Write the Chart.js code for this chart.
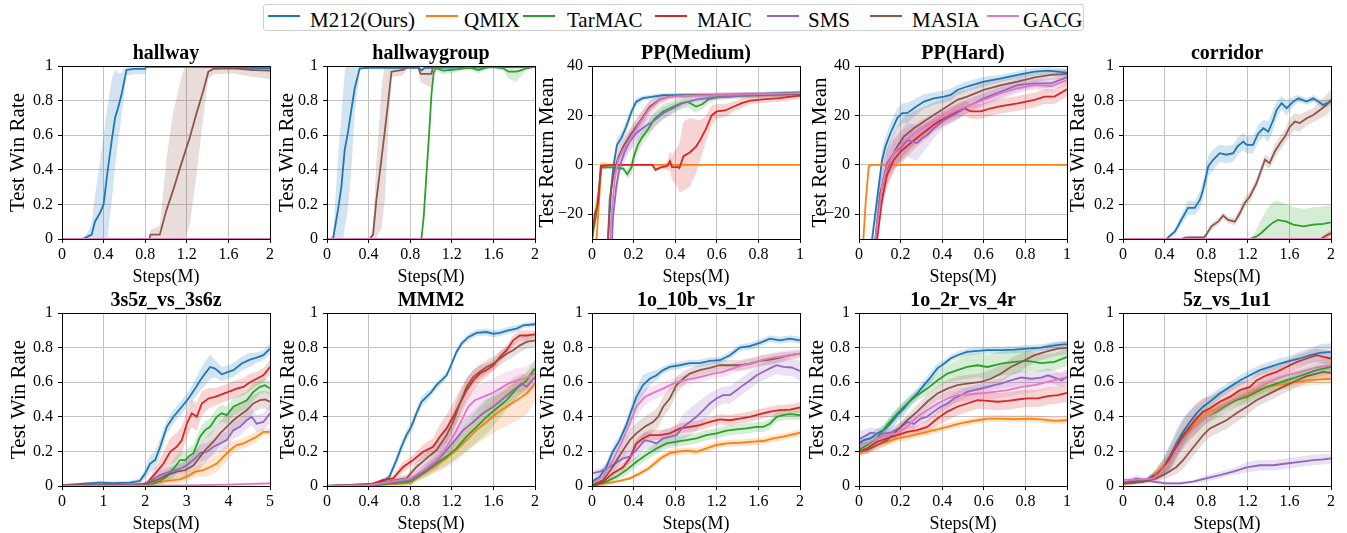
<!DOCTYPE html>
<html>
<head>
<meta charset="utf-8">
<script src="https://cdn.jsdelivr.net/npm/chart.js@4.4.1/dist/chart.umd.min.js"></script>
<style>
    body { margin: 0; width: 1347px; height: 533px; background: #fff; position: relative; overflow: hidden;
           font-family: 'Liberation Serif', 'Times New Roman', serif; }
    canvas { position: absolute; }
    #legend { position: absolute; left: 263px; top: 4px; width: 819px; height: 25px;
              border: 1px solid #cfcfcf; border-radius: 3px; background: #fff; }
    #legend .sw { position: absolute; top: 10px; width: 32px; height: 2px; }
    #legend .tx { position: absolute; top: 5px; font-size: 21px; line-height: 21px; color: #000; white-space: nowrap; }
</style>
</head>
<body>
<div id="legend"></div>
<script>
// ===== DATA =====
const methods = ['M212(Ours)', 'QMIX', 'TarMAC', 'MAIC', 'SMS', 'MASIA', 'GACG'];

const winTicks = [0, 0.2, 0.4, 0.6, 0.8, 1];
const returnTicks = [-20, 0, 20, 40];
const steps2Ticks = [0, 0.4, 0.8, 1.2, 1.6, 2];
const steps1Ticks = [0, 0.2, 0.4, 0.6, 0.8, 1];
const steps5Ticks = [0, 1, 2, 3, 4, 5];

// every curve: [steps (M), mean, half-width of the shaded band], series in the order of `methods`
const hallway = [
    [[0,0,0],[0.2,0,0],[0.24,0.012,0.02],[0.285,0.025,0.06],[0.317,0.1,0.15],[0.365,0.15,0.3],[0.4,0.2,0.4],[0.436,0.38,0.38],[0.478,0.57,0.35],[0.51,0.7,0.28],[0.54,0.76,0.2],[0.574,0.84,0.12],[0.62,0.977,0.03],[0.69,0.983,0.03],[0.8,0.983,0.03],[0.81,0.995,0.005],[1.2,0.995,0.005],[1.6,0.993,0.005],[2,0.987,0.008]],
    [[0,0,0],[2,0,0]],
    [[0,0,0],[2,0,0]],
    [[0,0,0],[2,0,0]],
    [[0,0,0],[2,0,0]],
    [[0,0,0],[0.84,0,0],[0.85,0.025,0.03],[0.94,0.025,0.05],[1.006,0.17,0.3],[1.07,0.285,0.45],[1.15,0.44,0.5],[1.23,0.59,0.5],[1.295,0.73,0.35],[1.36,0.86,0.15],[1.407,0.967,0.04],[1.455,0.983,0.03],[1.65,0.987,0.03],[1.84,0.977,0.04],[2,0.973,0.05]],
    [[0,0,0],[2,0,0]]
];

const hallwayGroup = [
    [[0,0,0],[0.058,0,0.02],[0.106,0.17,0.3],[0.138,0.3,0.4],[0.17,0.515,0.45],[0.2,0.61,0.45],[0.234,0.746,0.35],[0.266,0.87,0.15],[0.315,0.987,0.01],[0.41,0.99,0.005],[0.88,0.99,0.005],[0.91,0.975,0.01],[0.94,0.99,0.005],[2,0.995,0.005]],
    [[0,0,0],[2,0,0]],
    [[0,0,0],[0.908,0,0],[0.93,0.13,0.02],[0.957,0.38,0.02],[0.982,0.61,0.02],[1.005,0.84,0.02],[1.027,0.967,0.02],[1.05,0.987,0.015],[1.117,0.973,0.02],[1.245,0.98,0.015],[1.374,0.99,0.01],[1.454,0.977,0.02],[1.567,0.997,0.01],[1.695,0.987,0.01],[1.743,0.967,0.04],[1.823,0.967,0.06],[1.855,0.973,0.04],[1.92,0.987,0.01],[2,0.997,0.005]],
    [[0,0,0],[2,0,0]],
    [[0,0,0],[2,0,0]],
    [[0,0,0],[0.41,0,0],[0.443,0.025,0.05],[0.475,0.227,0.22],[0.523,0.46,0.4],[0.555,0.62,0.4],[0.587,0.785,0.2],[0.62,0.967,0.03],[0.73,0.977,0.03],[0.78,0.996,0.01],[0.876,0.996,0.01],[0.9,0.954,0.05],[1.005,0.954,0.08],[1.02,1,0],[2,1,0]],
    [[0,0,0],[2,0,0]]
];

const ppMedium = [
    [[0.06,-60,0],[0.077,-30,2],[0.093,-8.7,3],[0.104,0,3],[0.12,8,3],[0.141,10.8,2.5],[0.165,15.5,2.5],[0.19,21.6,2],[0.213,25.6,1.5],[0.245,27,1],[0.294,27.6,1],[0.342,28.2,0.8],[0.5,28.2,0.8],[0.663,28.3,0.8],[0.823,28.7,0.8],[1,29.2,0.8]],
    [[0.01,-45,0],[0.045,0,0],[1,0,0]],
    [[0,-30,3],[0.02,-20,3],[0.045,-1,1],[0.1,-1,0.5],[0.15,-1.5,1],[0.17,-3.8,2],[0.19,-1,3],[0.2,3,3],[0.22,8,3],[0.24,11,3],[0.27,14.5,3],[0.3,18.5,3],[0.34,21.5,3],[0.39,23.5,2.5],[0.43,25,2.5],[0.46,25.5,2.5],[0.5,23.6,2.5],[0.53,24.5,2],[0.56,26.5,1.5],[0.6,27.3,1],[0.7,27.8,1],[0.8,28.3,1],[1,29,1]],
    [[0,-30,4],[0.013,-20,5],[0.029,-15.5,5],[0.042,-0.5,2],[0.1,0,0.3],[0.29,0,0.5],[0.305,-2,1],[0.33,-1,1],[0.36,-0.5,1.5],[0.375,1.5,4],[0.385,-1,5],[0.41,-0.8,8],[0.42,-1.3,10],[0.44,3.5,14],[0.47,5,14],[0.5,7.4,11],[0.52,10,8],[0.55,15,5],[0.575,20,4],[0.6,21.6,3],[0.64,22,2.5],[0.68,23.5,2],[0.72,25,2],[0.76,26,1.5],[0.82,26.5,1.5],[0.9,27,1.5],[1,28,1.5]],
    [[0.09,-45,0],[0.101,-21,4],[0.117,-8.8,4],[0.133,-0.8,4],[0.157,5.3,4],[0.181,9.4,4],[0.213,12.8,4],[0.254,15.5,3.5],[0.294,17.5,3],[0.342,20.9,2.5],[0.39,22.9,2],[0.438,25,1.5],[0.502,26.5,1],[0.583,27.2,1],[0.695,27.9,1],[0.823,28.2,1],[1,28.6,1]],
    [[0.06,-45,0],[0.077,-30,3],[0.085,-14,3],[0.104,-3.5,3],[0.125,2.6,3],[0.15,7.4,3],[0.18,11.5,3],[0.23,17.5,3],[0.278,23.6,2.5],[0.326,26.5,1.5],[0.374,27.6,1],[0.42,28,1],[0.5,28.2,1],[0.663,28.4,1],[0.823,28.4,1],[1,28.7,1]],
    [[0.08,-45,0],[0.093,-21,4],[0.109,-6,4],[0.125,1.9,4],[0.149,5.9,4],[0.181,10,4],[0.229,16.8,4],[0.278,22.9,3],[0.326,26.3,2],[0.374,27.6,1],[0.47,28,1],[0.663,28.3,1],[1,29,1]]
];

const ppHard = [
    [[0.05,-50,0],[0.063,-30,3],[0.087,-14,4],[0.111,2,4],[0.127,7.4,4],[0.151,12.8,4],[0.184,18.9,4],[0.208,20.9,4],[0.232,20.9,4],[0.264,22.9,3.5],[0.312,25.6,3],[0.36,26.9,2.5],[0.41,27.6,2.5],[0.44,28.3,2.5],[0.473,30.3,2],[0.52,31.7,2],[0.6,33.7,2],[0.683,35,1.5],[0.763,36.4,1.5],[0.844,37.7,1.5],[0.908,38.1,1.5],[1,37.3,1.5]],
    [[0.01,-45,0],[0.033,-14,3],[0.047,-0.5,1],[0.058,0,0],[1,0,0]],
    [],
    [[0.07,-50,0],[0.087,-30,4],[0.111,-14,4],[0.135,-4,4],[0.167,2,4],[0.2,5.4,4],[0.248,8.8,4],[0.296,12.1,3.5],[0.36,16.2,3],[0.41,18.9,3],[0.457,20.9,3],[0.506,22.9,3],[0.538,21.6,3],[0.586,21.6,3],[0.634,22.9,3],[0.683,23.8,3],[0.763,24.9,3],[0.844,26.3,3],[0.892,27.6,3],[0.94,27.6,3],[1,30.6,3]],
    [[0.07,-50,0],[0.079,-30,4],[0.103,-11.4,5],[0.135,0.7,6],[0.167,4.7,6],[0.2,6.7,7],[0.232,10.1,7],[0.256,9.4,7],[0.28,8.8,7],[0.304,10.8,6],[0.328,12.1,5],[0.36,14.8,4],[0.41,18.2,3],[0.457,20.2,3],[0.52,23.6,2.5],[0.6,26.9,2.5],[0.683,29.6,2.5],[0.763,32.3,2.5],[0.844,33,2],[0.924,33,2],[1,35.4,2]],
    [[0.065,-50,0],[0.079,-30,6],[0.103,-11.4,7],[0.127,-3.4,8],[0.151,2,8],[0.184,7.4,8],[0.216,11.5,8],[0.264,14.8,7],[0.312,17.5,6],[0.36,20.2,5],[0.41,22.9,4],[0.473,26.3,3.5],[0.52,27.6,3],[0.6,30.3,3],[0.683,32.3,2.5],[0.763,33.7,2.5],[0.844,35.4,2],[0.924,36.4,2],[1,36.8,2]],
    [[0.065,-50,0],[0.079,-30,4],[0.111,-8.7,5],[0.135,-0.7,5],[0.167,4.7,5],[0.216,9.4,5],[0.28,13.5,4],[0.36,17.5,3.5],[0.41,19.5,3],[0.473,22.2,3],[0.52,23.8,3],[0.6,26.3,2.5],[0.683,29,2.5],[0.763,31,2],[0.844,32.3,2],[0.924,31.9,2],[1,34.3,2]]
];

const corridor = [
    [[0,0,0],[0.417,0,0],[0.5,0.044,0.02],[0.56,0.11,0.03],[0.626,0.18,0.04],[0.69,0.18,0.04],[0.74,0.227,0.05],[0.77,0.285,0.05],[0.82,0.42,0.06],[0.867,0.458,0.06],[0.93,0.496,0.05],[0.995,0.487,0.05],[1.06,0.496,0.05],[1.1,0.535,0.05],[1.156,0.563,0.05],[1.19,0.544,0.05],[1.25,0.544,0.05],[1.3,0.61,0.05],[1.35,0.64,0.05],[1.397,0.62,0.06],[1.445,0.688,0.06],[1.477,0.746,0.05],[1.525,0.785,0.04],[1.573,0.756,0.04],[1.637,0.794,0.03],[1.685,0.813,0.02],[1.766,0.794,0.02],[1.83,0.813,0.02],[1.926,0.775,0.02],[2,0.794,0.02]],
    [[0,0,0],[2,0,0]],
    [[0,0,0],[1.22,0,0],[1.284,0.015,0.04],[1.33,0.035,0.08],[1.397,0.073,0.11],[1.445,0.096,0.12],[1.49,0.11,0.11],[1.573,0.1,0.1],[1.637,0.083,0.1],[1.734,0.073,0.1],[1.83,0.083,0.1],[1.926,0.088,0.1],[2,0.096,0.1]],
    [[0,0,0],[1.9,0,0],[1.926,0.01,0.01],[2,0.035,0.02]],
    [[0,0,0],[2,0,0]],
    [[0,0,0],[0.55,0,0],[0.6,0.008,0.01],[0.78,0.01,0.01],[0.8,0.025,0.015],[0.85,0.073,0.02],[0.915,0.1,0.02],[0.963,0.135,0.02],[1.01,0.11,0.02],[1.075,0.1,0.02],[1.124,0.15,0.03],[1.17,0.208,0.03],[1.22,0.246,0.03],[1.284,0.323,0.03],[1.33,0.4,0.03],[1.365,0.458,0.03],[1.41,0.438,0.03],[1.46,0.506,0.04],[1.51,0.554,0.04],[1.557,0.592,0.04],[1.605,0.65,0.05],[1.653,0.679,0.05],[1.7,0.67,0.05],[1.766,0.698,0.04],[1.83,0.717,0.04],[1.894,0.746,0.05],[1.958,0.775,0.06],[2,0.804,0.06]],
    [[0,0,0],[2,0,0]]
];

const map3s5z = [
    [[0,0.005,0.005],[0.91,0.02,0.01],[1.23,0.016,0.01],[1.63,0.02,0.01],[1.875,0.03,0.015],[2,0.073,0.03],[2.12,0.13,0.05],[2.24,0.15,0.05],[2.36,0.227,0.05],[2.52,0.342,0.04],[2.68,0.4,0.04],[2.88,0.458,0.04],[3.04,0.506,0.04],[3.2,0.563,0.05],[3.32,0.61,0.06],[3.44,0.65,0.07],[3.56,0.688,0.07],[3.68,0.679,0.05],[3.84,0.646,0.04],[4,0.66,0.04],[4.12,0.67,0.04],[4.32,0.708,0.04],[4.52,0.73,0.04],[4.68,0.742,0.03],[4.84,0.756,0.03],[5,0.794,0.03]],
    [[0,0.003,0.003],[2,0.005,0.005],[2.52,0.03,0.02],[2.84,0.038,0.02],[3,0.054,0.03],[3.2,0.083,0.03],[3.4,0.092,0.04],[3.56,0.11,0.05],[3.72,0.13,0.05],[3.88,0.17,0.05],[4.04,0.208,0.04],[4.2,0.237,0.03],[4.36,0.246,0.03],[4.52,0.265,0.03],[4.68,0.285,0.03],[4.84,0.313,0.02],[5,0.313,0.02]],
    [[0,0.003,0.003],[2.12,0.006,0.005],[2.36,0.03,0.02],[2.52,0.054,0.03],[2.68,0.1,0.05],[2.84,0.15,0.05],[2.96,0.15,0.05],[3.04,0.17,0.05],[3.16,0.19,0.05],[3.32,0.285,0.05],[3.44,0.323,0.05],[3.56,0.342,0.05],[3.72,0.4,0.05],[3.84,0.42,0.05],[3.96,0.41,0.05],[4.12,0.458,0.05],[4.28,0.477,0.05],[4.44,0.496,0.05],[4.6,0.544,0.05],[4.76,0.573,0.04],[4.88,0.583,0.04],[5,0.563,0.04]],
    [[0,0.003,0.003],[1.71,0.006,0.005],[2.04,0.015,0.01],[2.28,0.083,0.04],[2.44,0.13,0.07],[2.6,0.198,0.08],[2.76,0.227,0.08],[2.88,0.265,0.08],[3,0.36,0.08],[3.12,0.42,0.08],[3.24,0.4,0.08],[3.36,0.477,0.07],[3.52,0.506,0.06],[3.68,0.515,0.05],[3.84,0.53,0.05],[4,0.544,0.05],[4.2,0.563,0.05],[4.36,0.573,0.05],[4.52,0.6,0.05],[4.68,0.62,0.04],[4.84,0.64,0.04],[5,0.688,0.04]],
    [[0,0.003,0.003],[1.96,0.01,0.01],[2.16,0.035,0.02],[2.36,0.063,0.03],[2.6,0.083,0.03],[2.84,0.1,0.03],[3,0.12,0.04],[3.16,0.15,0.04],[3.32,0.19,0.05],[3.48,0.198,0.05],[3.64,0.227,0.05],[3.8,0.246,0.05],[3.96,0.265,0.05],[4.12,0.323,0.05],[4.28,0.342,0.05],[4.44,0.38,0.05],[4.56,0.4,0.05],[4.68,0.36,0.05],[4.84,0.37,0.05],[5,0.42,0.05]],
    [[0,0.003,0.003],[1.96,0.006,0.005],[2.28,0.035,0.02],[2.52,0.063,0.03],[2.76,0.083,0.04],[2.96,0.092,0.05],[3.16,0.12,0.06],[3.32,0.17,0.07],[3.48,0.217,0.07],[3.64,0.256,0.07],[3.8,0.304,0.07],[3.96,0.342,0.07],[4.12,0.38,0.07],[4.28,0.41,0.06],[4.44,0.438,0.06],[4.6,0.477,0.05],[4.76,0.496,0.05],[4.88,0.5,0.05],[5,0.487,0.05]],
    [[0,0,0.002],[3,0.003,0.004],[4,0.008,0.006],[5,0.015,0.008]]
];

const mapMMM2 = [
    [[0,0,0],[0.41,0.006,0.005],[0.54,0.025,0.01],[0.6,0.054,0.02],[0.668,0.15,0.03],[0.716,0.227,0.03],[0.764,0.294,0.03],[0.81,0.342,0.03],[0.86,0.42,0.03],[0.909,0.487,0.03],[0.957,0.515,0.03],[1.005,0.544,0.02],[1.053,0.583,0.02],[1.1,0.61,0.02],[1.15,0.64,0.02],[1.2,0.708,0.02],[1.245,0.775,0.02],[1.294,0.823,0.02],[1.358,0.86,0.02],[1.438,0.885,0.02],[1.535,0.89,0.02],[1.6,0.88,0.02],[1.663,0.885,0.02],[1.743,0.9,0.02],[1.823,0.91,0.02],[1.888,0.929,0.015],[2,0.935,0.015]],
    [[0,0,0],[0.41,0.003,0.003],[0.8,0.015,0.01],[0.925,0.07,0.03],[1.053,0.12,0.04],[1.15,0.16,0.05],[1.245,0.208,0.06],[1.342,0.265,0.07],[1.438,0.323,0.08],[1.535,0.37,0.09],[1.63,0.42,0.1],[1.727,0.458,0.11],[1.823,0.496,0.12],[1.92,0.535,0.12],[2,0.592,0.1]],
    [[0,0,0],[0.41,0.003,0.003],[0.8,0.025,0.01],[0.925,0.073,0.03],[1.053,0.13,0.04],[1.15,0.17,0.05],[1.245,0.217,0.06],[1.342,0.285,0.08],[1.438,0.342,0.09],[1.535,0.4,0.1],[1.63,0.448,0.08],[1.727,0.496,0.06],[1.823,0.563,0.05],[1.92,0.61,0.05],[2,0.68,0.05]],
    [[0,0,0],[0.41,0.006,0.005],[0.54,0.035,0.01],[0.636,0.044,0.02],[0.732,0.11,0.03],[0.828,0.15,0.03],[0.925,0.198,0.04],[1.02,0.227,0.05],[1.085,0.285,0.07],[1.15,0.333,0.08],[1.213,0.4,0.08],[1.278,0.477,0.08],[1.342,0.554,0.07],[1.406,0.61,0.06],[1.47,0.65,0.05],[1.535,0.67,0.04],[1.6,0.698,0.03],[1.663,0.746,0.03],[1.727,0.785,0.03],[1.79,0.842,0.03],[1.855,0.87,0.03],[1.92,0.87,0.03],[2,0.877,0.02]],
    [[0,0,0],[0.41,0.005,0.004],[0.8,0.035,0.01],[0.925,0.083,0.03],[1.053,0.14,0.04],[1.15,0.208,0.05],[1.23,0.265,0.06],[1.31,0.323,0.06],[1.406,0.37,0.06],[1.5,0.42,0.07],[1.6,0.458,0.07],[1.695,0.506,0.07],[1.79,0.554,0.07],[1.87,0.592,0.06],[1.92,0.573,0.06],[2,0.63,0.06]],
    [[0,0,0],[0.507,0.015,0.01],[0.668,0.035,0.02],[0.764,0.044,0.02],[0.86,0.11,0.03],[0.957,0.16,0.04],[1.053,0.208,0.05],[1.15,0.294,0.05],[1.213,0.37,0.06],[1.278,0.477,0.06],[1.342,0.573,0.05],[1.406,0.63,0.04],[1.47,0.66,0.04],[1.535,0.688,0.04],[1.6,0.708,0.04],[1.663,0.737,0.04],[1.727,0.765,0.04],[1.79,0.785,0.04],[1.855,0.813,0.04],[1.92,0.833,0.04],[2,0.842,0.04]],
    [[0,0,0],[0.41,0.005,0.004],[0.8,0.044,0.02],[0.925,0.092,0.03],[1.053,0.15,0.05],[1.15,0.227,0.06],[1.23,0.304,0.07],[1.31,0.4,0.08],[1.358,0.458,0.08],[1.422,0.496,0.08],[1.5,0.515,0.08],[1.583,0.535,0.08],[1.663,0.563,0.08],[1.743,0.592,0.07],[1.823,0.61,0.07],[1.904,0.62,0.07],[2,0.65,0.07]]
];

const map1o10b = [
    [[0,0.025,0.02],[0.074,0.054,0.02],[0.138,0.11,0.03],[0.2,0.198,0.03],[0.266,0.265,0.03],[0.33,0.352,0.03],[0.38,0.438,0.04],[0.427,0.515,0.05],[0.49,0.583,0.06],[0.555,0.62,0.04],[0.62,0.64,0.03],[0.684,0.67,0.02],[0.748,0.688,0.02],[0.844,0.698,0.02],[0.94,0.71,0.02],[1.037,0.71,0.02],[1.133,0.723,0.02],[1.23,0.727,0.02],[1.326,0.756,0.02],[1.422,0.8,0.02],[1.518,0.808,0.02],[1.615,0.827,0.02],[1.711,0.852,0.02],[1.807,0.842,0.02],[1.904,0.852,0.02],[2,0.842,0.02]],
    [[0,0,0.005],[0.138,0.015,0.01],[0.266,0.03,0.01],[0.363,0.044,0.01],[0.46,0.073,0.015],[0.54,0.1,0.015],[0.62,0.14,0.02],[0.684,0.17,0.02],[0.748,0.19,0.02],[0.812,0.198,0.02],[0.908,0.204,0.02],[1.005,0.198,0.02],[1.1,0.217,0.02],[1.197,0.237,0.02],[1.294,0.246,0.02],[1.422,0.25,0.02],[1.55,0.256,0.02],[1.647,0.26,0.02],[1.743,0.275,0.02],[1.84,0.285,0.02],[2,0.308,0.02]],
    [[0,0,0.005],[0.138,0.025,0.015],[0.234,0.054,0.02],[0.33,0.092,0.03],[0.427,0.14,0.03],[0.523,0.18,0.03],[0.62,0.217,0.03],[0.716,0.246,0.03],[0.812,0.256,0.03],[0.908,0.265,0.03],[1.005,0.275,0.03],[1.1,0.294,0.03],[1.197,0.304,0.03],[1.294,0.32,0.03],[1.39,0.327,0.03],[1.486,0.333,0.03],[1.583,0.342,0.03],[1.647,0.342,0.03],[1.711,0.36,0.03],[1.775,0.4,0.03],[1.84,0.41,0.03],[1.904,0.415,0.03],[2,0.41,0.03]],
    [[0,0,0.005],[0.106,0.025,0.015],[0.2,0.073,0.02],[0.3,0.11,0.02],[0.363,0.16,0.03],[0.427,0.246,0.03],[0.49,0.275,0.03],[0.555,0.294,0.03],[0.652,0.294,0.03],[0.748,0.304,0.03],[0.844,0.333,0.03],[0.94,0.342,0.03],[1.037,0.352,0.03],[1.133,0.37,0.03],[1.23,0.385,0.03],[1.326,0.38,0.03],[1.422,0.39,0.03],[1.518,0.4,0.03],[1.615,0.415,0.03],[1.711,0.43,0.03],[1.807,0.438,0.03],[1.904,0.442,0.03],[2,0.454,0.03]],
    [[0,0.073,0.02],[0.074,0.083,0.02],[0.17,0.11,0.03],[0.25,0.14,0.03],[0.3,0.16,0.04],[0.363,0.17,0.04],[0.427,0.208,0.05],[0.507,0.265,0.05],[0.571,0.256,0.05],[0.62,0.246,0.05],[0.684,0.275,0.05],[0.748,0.285,0.05],[0.812,0.294,0.06],[0.876,0.342,0.07],[0.94,0.37,0.08],[1.005,0.4,0.08],[1.07,0.438,0.07],[1.133,0.477,0.06],[1.197,0.506,0.05],[1.26,0.525,0.05],[1.326,0.525,0.05],[1.39,0.554,0.05],[1.454,0.583,0.05],[1.518,0.61,0.05],[1.583,0.64,0.05],[1.647,0.66,0.05],[1.711,0.68,0.05],[1.775,0.698,0.05],[1.84,0.688,0.05],[1.92,0.685,0.05],[2,0.665,0.06]],
    [[0,0.006,0.005],[0.106,0.035,0.02],[0.2,0.11,0.04],[0.28,0.19,0.05],[0.363,0.265,0.06],[0.427,0.304,0.06],[0.507,0.342,0.06],[0.587,0.37,0.06],[0.636,0.4,0.06],[0.684,0.458,0.06],[0.748,0.506,0.06],[0.812,0.583,0.05],[0.876,0.62,0.04],[0.94,0.65,0.03],[1.037,0.67,0.03],[1.133,0.683,0.03],[1.23,0.698,0.03],[1.326,0.698,0.03],[1.422,0.698,0.03],[1.518,0.708,0.03],[1.615,0.723,0.03],[1.711,0.73,0.03],[1.807,0.742,0.03],[1.904,0.756,0.02],[2,0.765,0.02]],
    [[0,0.015,0.01],[0.106,0.054,0.02],[0.2,0.15,0.04],[0.28,0.246,0.05],[0.363,0.36,0.06],[0.427,0.458,0.06],[0.507,0.515,0.05],[0.587,0.538,0.04],[0.684,0.563,0.04],[0.78,0.592,0.03],[0.876,0.61,0.03],[0.973,0.62,0.03],[1.07,0.635,0.03],[1.165,0.65,0.03],[1.26,0.66,0.03],[1.358,0.68,0.03],[1.454,0.698,0.03],[1.55,0.71,0.03],[1.647,0.73,0.03],[1.743,0.742,0.03],[1.84,0.75,0.03],[2,0.765,0.03]]
];

const map1o2r = [
    [[0,0.246,0.03],[0.023,0.265,0.03],[0.055,0.275,0.03],[0.087,0.304,0.03],[0.12,0.323,0.03],[0.151,0.36,0.04],[0.184,0.41,0.04],[0.216,0.448,0.04],[0.248,0.496,0.03],[0.28,0.535,0.03],[0.312,0.583,0.03],[0.345,0.63,0.03],[0.377,0.68,0.03],[0.41,0.708,0.02],[0.44,0.737,0.02],[0.473,0.756,0.02],[0.52,0.775,0.02],[0.57,0.781,0.02],[0.618,0.785,0.02],[0.683,0.785,0.02],[0.747,0.788,0.02],[0.81,0.794,0.02],[0.876,0.8,0.02],[0.94,0.813,0.02],[1,0.82,0.02]],
    [[0,0.19,0.02],[0.039,0.208,0.02],[0.087,0.237,0.02],[0.135,0.256,0.02],[0.184,0.275,0.02],[0.232,0.285,0.02],[0.28,0.3,0.02],[0.328,0.313,0.02],[0.377,0.327,0.02],[0.425,0.342,0.02],[0.473,0.358,0.02],[0.52,0.37,0.02],[0.57,0.38,0.02],[0.618,0.39,0.02],[0.683,0.39,0.02],[0.747,0.387,0.02],[0.81,0.39,0.02],[0.876,0.385,0.02],[0.94,0.377,0.02],[1,0.38,0.02]],
    [[0,0.21,0.02],[0.039,0.237,0.03],[0.087,0.275,0.03],[0.135,0.352,0.03],[0.184,0.42,0.03],[0.232,0.477,0.03],[0.28,0.525,0.03],[0.328,0.563,0.04],[0.377,0.61,0.04],[0.425,0.65,0.05],[0.473,0.67,0.06],[0.52,0.688,0.07],[0.57,0.698,0.07],[0.618,0.688,0.07],[0.683,0.708,0.07],[0.747,0.717,0.07],[0.81,0.723,0.06],[0.876,0.71,0.05],[0.94,0.717,0.05],[1,0.746,0.05]],
    [[0,0.2,0.02],[0.039,0.217,0.03],[0.087,0.256,0.03],[0.135,0.275,0.03],[0.184,0.294,0.03],[0.232,0.313,0.03],[0.28,0.323,0.03],[0.328,0.342,0.04],[0.377,0.39,0.04],[0.425,0.43,0.05],[0.473,0.458,0.05],[0.52,0.477,0.05],[0.57,0.496,0.05],[0.618,0.492,0.05],[0.667,0.487,0.05],[0.715,0.492,0.05],[0.763,0.5,0.05],[0.81,0.506,0.05],[0.86,0.506,0.05],[0.908,0.52,0.05],[0.957,0.525,0.05],[1,0.538,0.05]],
    [[0,0.27,0.05],[0.023,0.285,0.04],[0.055,0.308,0.03],[0.103,0.3,0.03],[0.151,0.308,0.03],[0.2,0.338,0.03],[0.232,0.37,0.03],[0.264,0.358,0.03],[0.296,0.39,0.03],[0.328,0.4,0.03],[0.36,0.43,0.03],[0.393,0.458,0.03],[0.425,0.477,0.03],[0.457,0.506,0.03],[0.49,0.525,0.03],[0.52,0.544,0.03],[0.554,0.554,0.03],[0.586,0.563,0.03],[0.618,0.573,0.03],[0.65,0.583,0.03],[0.683,0.592,0.03],[0.73,0.61,0.04],[0.78,0.627,0.04],[0.828,0.62,0.04],[0.876,0.627,0.04],[0.908,0.64,0.04],[0.94,0.627,0.04],[0.973,0.61,0.04],[1,0.63,0.04]],
    [[0,0.2,0.02],[0.039,0.208,0.02],[0.087,0.237,0.03],[0.135,0.265,0.03],[0.184,0.323,0.03],[0.232,0.38,0.03],[0.28,0.43,0.04],[0.328,0.487,0.04],[0.377,0.535,0.04],[0.425,0.563,0.05],[0.473,0.583,0.05],[0.52,0.592,0.05],[0.586,0.602,0.05],[0.634,0.62,0.05],[0.683,0.65,0.05],[0.73,0.688,0.05],[0.78,0.717,0.05],[0.844,0.756,0.04],[0.908,0.779,0.04],[0.957,0.794,0.04],[1,0.798,0.04]],
    [[0,0.24,0.02],[0.039,0.246,0.03],[0.087,0.275,0.03],[0.135,0.294,0.03],[0.184,0.304,0.03],[0.232,0.342,0.03],[0.28,0.4,0.04],[0.328,0.438,0.04],[0.377,0.477,0.04],[0.425,0.506,0.04],[0.473,0.525,0.04],[0.52,0.53,0.04],[0.586,0.535,0.04],[0.65,0.544,0.04],[0.715,0.554,0.04],[0.78,0.573,0.04],[0.844,0.583,0.04],[0.908,0.602,0.04],[1,0.63,0.04]]
];

const map5z1u1 = [
    [[0,0.02,0.01],[0.096,0.025,0.01],[0.225,0.035,0.01],[0.32,0.073,0.03],[0.385,0.11,0.05],[0.45,0.17,0.07],[0.514,0.246,0.08],[0.578,0.313,0.08],[0.642,0.37,0.07],[0.706,0.42,0.05],[0.77,0.458,0.04],[0.835,0.487,0.04],[0.93,0.535,0.03],[1.027,0.573,0.03],[1.124,0.61,0.03],[1.22,0.64,0.03],[1.316,0.67,0.03],[1.412,0.688,0.03],[1.51,0.708,0.03],[1.605,0.723,0.03],[1.7,0.737,0.04],[1.8,0.756,0.04],[1.894,0.77,0.05],[2,0.775,0.05]],
    [[0,0.012,0.01],[0.193,0.025,0.01],[0.29,0.054,0.02],[0.353,0.092,0.03],[0.45,0.16,0.04],[0.514,0.227,0.04],[0.578,0.285,0.04],[0.642,0.333,0.04],[0.706,0.37,0.04],[0.8,0.42,0.03],[0.9,0.448,0.03],[0.995,0.477,0.03],[1.09,0.506,0.03],[1.19,0.525,0.03],[1.284,0.554,0.03],[1.38,0.573,0.03],[1.477,0.583,0.03],[1.573,0.592,0.03],[1.67,0.602,0.03],[1.766,0.61,0.03],[1.862,0.615,0.03],[2,0.62,0.03]],
    [[0,0.015,0.01],[0.193,0.025,0.01],[0.32,0.063,0.02],[0.385,0.1,0.03],[0.45,0.15,0.04],[0.514,0.217,0.05],[0.578,0.275,0.05],[0.642,0.323,0.05],[0.706,0.352,0.05],[0.8,0.4,0.04],[0.9,0.43,0.04],[0.995,0.467,0.04],[1.09,0.496,0.04],[1.19,0.515,0.04],[1.284,0.544,0.04],[1.38,0.573,0.04],[1.477,0.592,0.04],[1.573,0.61,0.04],[1.67,0.63,0.04],[1.766,0.65,0.04],[1.862,0.67,0.04],[2,0.688,0.04]],
    [[0,0.015,0.01],[0.096,0.02,0.01],[0.225,0.03,0.01],[0.32,0.063,0.03],[0.385,0.1,0.05],[0.45,0.16,0.07],[0.514,0.227,0.08],[0.578,0.294,0.09],[0.642,0.342,0.09],[0.706,0.39,0.09],[0.77,0.43,0.08],[0.835,0.448,0.07],[0.93,0.487,0.06],[1.027,0.515,0.05],[1.124,0.554,0.05],[1.22,0.573,0.04],[1.284,0.61,0.04],[1.38,0.64,0.04],[1.477,0.66,0.04],[1.573,0.688,0.04],[1.67,0.717,0.04],[1.766,0.737,0.04],[1.862,0.756,0.04],[1.926,0.746,0.04],[2,0.737,0.04]],
    [[0,0.015,0.01],[0.128,0.044,0.02],[0.289,0.025,0.01],[0.417,0.015,0.01],[0.546,0.015,0.01],[0.674,0.025,0.01],[0.8,0.044,0.02],[0.93,0.063,0.02],[1.06,0.083,0.02],[1.19,0.108,0.03],[1.316,0.12,0.03],[1.445,0.12,0.03],[1.573,0.13,0.03],[1.7,0.14,0.03],[1.83,0.15,0.03],[1.926,0.154,0.03],[2,0.16,0.03]],
    [[0,0.015,0.01],[0.193,0.025,0.01],[0.32,0.044,0.02],[0.417,0.073,0.03],[0.514,0.11,0.04],[0.578,0.15,0.05],[0.642,0.198,0.05],[0.706,0.246,0.05],[0.77,0.294,0.05],[0.835,0.333,0.05],[0.9,0.352,0.05],[0.995,0.38,0.05],[1.09,0.42,0.05],[1.19,0.458,0.05],[1.284,0.496,0.04],[1.38,0.525,0.04],[1.477,0.554,0.04],[1.573,0.583,0.04],[1.67,0.61,0.04],[1.766,0.635,0.04],[1.862,0.65,0.04],[1.926,0.66,0.04],[2,0.654,0.04]],
    [[0,0.035,0.01],[0.193,0.038,0.01],[0.289,0.044,0.02],[0.353,0.073,0.03],[0.45,0.14,0.04],[0.514,0.208,0.05],[0.578,0.265,0.05],[0.642,0.313,0.05],[0.706,0.352,0.05],[0.8,0.4,0.04],[0.9,0.438,0.04],[0.995,0.477,0.04],[1.09,0.506,0.04],[1.19,0.535,0.04],[1.284,0.563,0.04],[1.38,0.592,0.04],[1.477,0.62,0.04],[1.573,0.64,0.04],[1.67,0.654,0.04],[1.766,0.67,0.04],[1.862,0.685,0.04],[2,0.698,0.04]]
];

// ===== STYLE / LAYOUT =====
const serif = "'Liberation Serif', 'Times New Roman', serif";
const lineColors = ['#1f77b4', '#ff7f0e', '#2ca02c', '#d62728', '#9467bd', '#8c564b', '#e377c2'];
const bandColors = ['rgba(31,119,180,0.2)', 'rgba(255,127,14,0.2)', 'rgba(44,160,44,0.2)', 'rgba(214,39,40,0.2)',
                    'rgba(148,103,189,0.2)', 'rgba(140,86,75,0.2)', 'rgba(227,119,194,0.2)'];

const Y_AXIS_W = 62, X_AXIS_H = 49, TITLE_H = 28, PLOT_W = 208, PLOT_H = 173, RIGHT_PAD = 12;
const colLeft = [62, 327, 592, 859, 1123];
const rowTop = [66, 313];

const winAxis = { yMin: 0, yMax: 1, yTicks: winTicks, yLabel: 'Test Win Rate' };
const retAxis = { yMin: -30, yMax: 40, yTicks: returnTicks, yLabel: 'Test Return Mean' };

const panels = [
    { title: 'hallway',       curves: hallway,      xMax: 2, xTicks: steps2Ticks, ...winAxis, row: 0, col: 0, labelPad: 5.4 },
    { title: 'hallwaygroup',  curves: hallwayGroup, xMax: 2, xTicks: steps2Ticks, ...winAxis, row: 0, col: 1, labelPad: 10.1 },
    { title: 'PP(Medium)',    curves: ppMedium,     xMax: 1, xTicks: steps1Ticks, ...retAxis, row: 0, col: 2, labelPad: 4.9 },
    { title: 'PP(Hard)',      curves: ppHard,       xMax: 1, xTicks: steps1Ticks, ...retAxis, row: 0, col: 3, labelPad: 10.9 },
    { title: 'corridor',      curves: corridor,     xMax: 2, xTicks: steps2Ticks, ...winAxis, row: 0, col: 4, labelPad: 4.9 },
    { title: '3s5z_vs_3s6z',  curves: map3s5z,      xMax: 5, xTicks: steps5Ticks, ...winAxis, row: 1, col: 0, labelPad: 6.4 },
    { title: 'MMM2',          curves: mapMMM2,      xMax: 2, xTicks: steps2Ticks, ...winAxis, row: 1, col: 1, labelPad: 10.4 },
    { title: '1o_10b_vs_1r',  curves: map1o10b,     xMax: 2, xTicks: steps2Ticks, ...winAxis, row: 1, col: 2, labelPad: 6.1 },
    { title: '1o_2r_vs_4r',   curves: map1o2r,      xMax: 1, xTicks: steps1Ticks, ...winAxis, row: 1, col: 3, labelPad: 7.4 },
    { title: '5z_vs_1u1',     curves: map5z1u1,     xMax: 2, xTicks: steps2Ticks, ...winAxis, row: 1, col: 4, labelPad: 5.1 }
];

// black box round each plot, drawn over the curves like matplotlib spines
const frame = {
    id: 'frame',
    afterDatasetsDraw(chart) {
        const { ctx, chartArea: a } = chart;
        ctx.save();
        ctx.strokeStyle = '#000';
        ctx.lineWidth = 1;
        const l = Math.round(a.left) + 0.5, t = Math.round(a.top) + 0.5;
        ctx.strokeRect(l, t, Math.round(a.right) - Math.round(a.left), Math.round(a.bottom) - Math.round(a.top));
        ctx.restore();
    }
};

const minusSign = v => String(v).replace('-', '\u2212');

function buildDatasets(curves) {
    const bands = [], lines = [];
    curves.forEach((pts, i) => {
        bands.push({
            data: pts.map(p => ({ x: p[0], y: p[1] - p[2] })),
            borderColor: 'rgba(0,0,0,0)', borderWidth: 0, pointRadius: 0, fill: false, order: 50
        });
        bands.push({
            data: pts.map(p => ({ x: p[0], y: p[1] + p[2] })),
            borderColor: 'rgba(0,0,0,0)', borderWidth: 0, pointRadius: 0,
            fill: '-1', backgroundColor: bandColors[i], order: 50
        });
        lines.push({
            label: methods[i],
            data: pts.map(p => ({ x: p[0], y: p[1] })),
            borderColor: lineColors[i], borderWidth: 1.8, pointRadius: 0, fill: false, tension: 0,
            order: 10 - i
        });
    });
    return bands.concat(lines);
}

function axisGrid() {
    return { color: '#c2c2c2', lineWidth: 1, drawTicks: true, tickLength: 4, tickColor: '#000', tickWidth: 1 };
}

panels.forEach(p => {
    const cv = document.createElement('canvas');
    cv.width = Y_AXIS_W + PLOT_W + RIGHT_PAD;
    cv.height = TITLE_H + PLOT_H + X_AXIS_H;
    cv.style.left = (colLeft[p.col] - Y_AXIS_W) + 'px';
    cv.style.top = (rowTop[p.row] - TITLE_H) + 'px';
    document.body.appendChild(cv);

    new Chart(cv, {
        type: 'line',
        data: { datasets: buildDatasets(p.curves) },
        options: {
            responsive: false, animation: false, events: [],
            layout: { padding: { top: 0, right: RIGHT_PAD, bottom: 0, left: 0 } },
            plugins: {
                legend: { display: false },
                tooltip: { enabled: false },
                title: {
                    display: true, text: p.title, color: '#000', fullSize: false,
                    font: { family: serif, size: 20, weight: 'bold' }, padding: { top: 4, bottom: 0 }
                }
            },
            scales: {
                x: {
                    type: 'linear', min: 0, max: p.xMax,
                    afterBuildTicks: ax => { ax.ticks = p.xTicks.map(v => ({ value: v })); },
                    afterFit: s => { s.height = X_AXIS_H; },
                    grid: axisGrid(), border: { display: false },
                    ticks: { color: '#000', font: { family: serif, size: 16 }, padding: 2, autoSkip: false, maxRotation: 0, callback: minusSign },
                    title: { display: true, text: 'Steps(M)', color: '#000', font: { family: serif, size: 18 }, padding: { top: 0, bottom: 0 } }
                },
                y: {
                    type: 'linear', min: p.yMin, max: p.yMax,
                    afterBuildTicks: ax => { ax.ticks = p.yTicks.map(v => ({ value: v })); },
                    afterFit: s => { s.width = Y_AXIS_W; },
                    grid: axisGrid(), border: { display: false },
                    ticks: { color: '#000', font: { family: serif, size: 16 }, padding: 5, callback: minusSign },
                    title: { display: true, text: p.yLabel, color: '#000', font: { family: serif, size: 21 }, padding: { top: p.labelPad, bottom: 0 } }
                }
            }
        },
        plugins: [frame]
    });
});

// ===== LEGEND =====
const legendSwatchX = [268, 426, 523, 655, 767, 870, 987];
const legendTextX = [310, 464, 567, 697, 808, 912, 1023];
const legend = document.getElementById('legend');
methods.forEach((name, i) => {
    const sw = document.createElement('div');
    sw.className = 'sw';
    sw.style.left = (legendSwatchX[i] - 264) + 'px';
    sw.style.background = lineColors[i];
    legend.appendChild(sw);
    const tx = document.createElement('div');
    tx.className = 'tx';
    tx.style.left = (legendTextX[i] - 264) + 'px';
    tx.textContent = name;
    legend.appendChild(tx);
});
</script>
</body>
</html>
